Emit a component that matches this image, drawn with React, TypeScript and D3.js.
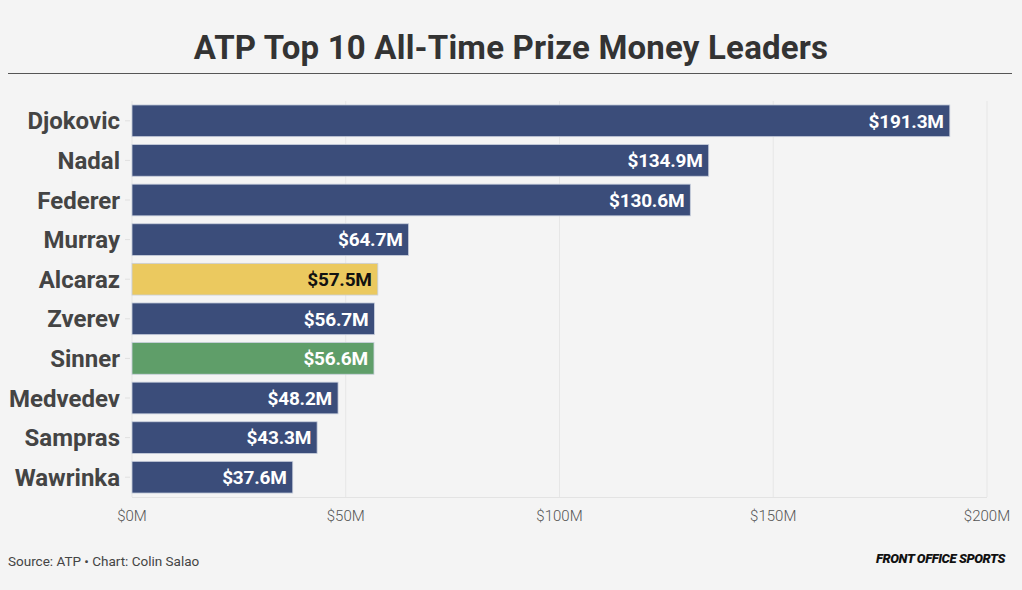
import * as d3 from 'd3';

const players = ['Djokovic', 'Nadal', 'Federer', 'Murray', 'Alcaraz', 'Zverev', 'Sinner', 'Medvedev', 'Sampras', 'Wawrinka'];
const prizeMoney = [191.3, 134.9, 130.6, 64.7, 57.5, 56.7, 56.6, 48.2, 43.3, 37.6];
const xTicks = [0, 50, 100, 150, 200];

const colorFor = (name: string) =>
  name === 'Alcaraz' ? '#ebc95f' : name === 'Sinner' ? '#5f9e69' : '#3b4d7a';

export default function App() {
  const width = 1022;
  const height = 590;
  const margin = { left: 132, right: 35, top: 101, bottom: 93 };

  const x = d3.scaleLinear().domain([0, 200]).range([margin.left, width - margin.right]);
  const y = d3
    .scaleBand<string>()
    .domain(players)
    .range([margin.top, height - margin.bottom])
    .paddingInner(0.2)
    .paddingOuter(0.1);

  const font = 'Roboto, "Liberation Sans", sans-serif';

  return (
    <svg width={width} height={height} style={{ display: 'block', position: 'absolute', left: 0, top: 0 }}>
      <rect width={width} height={height} fill="#f4f4f4" />
      <text x={511} y={59} textAnchor="middle" fontFamily={font} fontWeight={700} fontSize={33} fill="#333" letterSpacing={0.2}>
        ATP Top 10 All-Time Prize Money Leaders
      </text>
      <line x1={8} x2={1012} y1={73.5} y2={73.5} stroke="#555" strokeWidth={1.2} />

      {/* grid */}
      {xTicks.map((t) => (
        <line key={t} x1={x(t)} x2={x(t)} y1={margin.top} y2={height - margin.bottom} stroke="#e6e6e6" />
      ))}
      <line x1={margin.left} x2={x(200)} y1={height - margin.bottom + 0.5} y2={height - margin.bottom + 0.5} stroke="#e3e3e3" />

      {players.map((p, i) => {
        const by = y(p)!;
        const bh = y.bandwidth();
        return (
          <g key={p}>
            <line x1={margin.left - 7} x2={margin.left - 2} y1={by + bh / 2} y2={by + bh / 2} stroke="#e0e0e0" />
            <rect
              x={x(0)}
              y={by}
              width={x(prizeMoney[i]) - x(0)}
              height={bh}
              fill={colorFor(p)}
              stroke="#c8cfdd"
              strokeWidth={0.8}
            />
            <text
              x={120}
              y={by + bh / 2}
              dy="0.36em"
              textAnchor="end"
              fontFamily={font}
              fontWeight={700}
              fontSize={24}
              fill="#444"
            >
              {p}
            </text>
            <text
              x={x(prizeMoney[i]) - 6}
              y={by + bh / 2}
              dy="0.36em"
              textAnchor="end"
              fontFamily={font}
              fontWeight={700}
              fontSize={19}
              letterSpacing={-0.2}
              fill={p === 'Alcaraz' ? '#111' : '#fff'}
            >
              {`$${prizeMoney[i].toFixed(1)}M`}
            </text>
          </g>
        );
      })}

      {xTicks.map((t) => (
        <text key={t} x={x(t)} y={521} textAnchor="middle" fontFamily={font} fontWeight={300} fontSize={15} fill="#555">
          {`$${t}M`}
        </text>
      ))}

      <text x={8} y={566} fontFamily={font} fontSize={13.5} fill="#444">
        Source: ATP • Chart: Colin Salao
      </text>
      <text x={1005} y={563} textAnchor="end" fontFamily={font} fontWeight={900} fontStyle="italic" fontSize={13} fill="#111" letterSpacing={-0.4}>
        FRONT OFFICE SPORTS
      </text>
    </svg>
  );
}
